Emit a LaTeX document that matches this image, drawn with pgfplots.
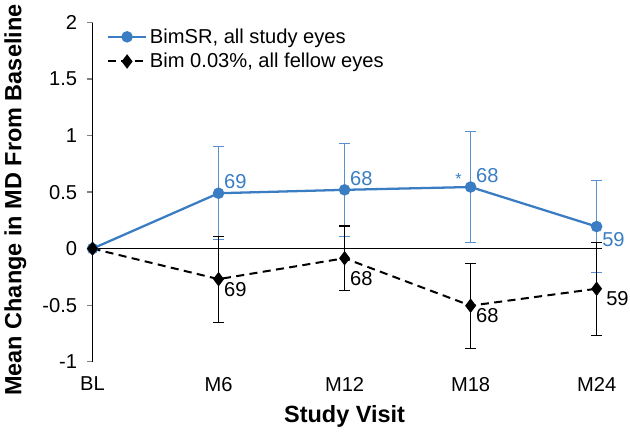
\documentclass[border=0pt]{standalone}
\usepackage{pgfplots}
\pgfplotsset{compat=1.18}
\usepackage{fontspec}
\setmainfont{Liberation Sans}
\definecolor{bimblue}{RGB}{58,125,195}
\definecolor{bimbluel}{RGB}{90,145,205}
\begin{document}
\begin{tikzpicture}
\begin{axis}[
  scale only axis,
  width=379.5pt, height=252.75pt,
  xmin=0, xmax=4.04, ymin=-1, ymax=2,
  axis x line=none,
  axis y line*=left,
  y axis line style={-, line width=0.9pt},
  ytick={-1,-0.5,0,0.5,1,1.5,2},
  yticklabels={-1,-0.5,0,0.5,1,1.5,2},
  tick align=outside,
  major tick length=4pt,
  ytick style={line width=0.9pt},
  ticklabel style={font=\fontsize{15}{18}\selectfont},
  yticklabel style={xshift=-4pt},
  ylabel={\bfseries Mean Change in MD From Baseline},
  ylabel style={font=\fontsize{17.5}{20}\selectfont, yshift=5pt, xshift=-6pt},
  clip=false,
  legend style={draw=none, fill=none, at={(0.025,0.995)}, anchor=north west,
    font=\fontsize{15}{18}\selectfont, row sep=2pt, inner sep=1pt},
  legend cell align=left,
  legend image code/.code={\draw[mark repeat=2,mark phase=2] plot coordinates {(0cm,0cm) (0.5cm,0cm) (1.0cm,0cm)};},
]
\draw[black, line width=1pt] (axis cs:0,0) -- (axis cs:4.04,0);
\addplot[color=bimblue, line width=1.7pt, mark=*, mark size=3.4pt,
  error bars/.cd, y dir=both, y explicit,
  error bar style={color=bimbluel, line width=0.8pt}, error mark options={rotate=90, mark size=4pt, line width=0.8pt, color=bimbluel}]
  coordinates {(0,0) +- (0,0) (1,0.49) +- (0,0.41) (2,0.52) +- (0,0.41) (3,0.545) +- (0,0.49) (4,0.195) +- (0,0.41)};
\addlegendentry{BimSR, all study eyes}
\addplot[color=black, line width=1.5pt, dashed, dash pattern=on 6pt off 4pt, mark=diamond*, mark size=4.2pt, mark options={solid},
  error bars/.cd, y dir=both, y explicit,
  error bar style={color=black, line width=0.8pt, solid}, error mark options={rotate=90, mark size=4pt, line width=0.8pt, black, solid}]
  coordinates {(0,0) +- (0,0) (1,-0.27) +- (0,0.38) (2,-0.085) +- (0,0.285) (3,-0.505) +- (0,0.375) (4,-0.355) +- (0,0.41)};
\addlegendentry{Bim 0.03\%, all fellow eyes}
% category labels
\foreach \x/\l in {0/BL,1/M6,2/M12,3/M18,4/M24}{
  \edef\tmp{\noexpand\node[font=\noexpand\fontsize{15}{18}\noexpand\selectfont, anchor=north] at (axis cs:\x,-1) [yshift=-8pt] {\l};}\tmp
}
\node[font=\fontsize{17.5}{20}\selectfont\bfseries, anchor=north] at (axis cs:2,-1) [yshift=-29pt] {Study Visit};
% n labels
\tikzset{nl/.style={font=\fontsize{15}{18}\selectfont, anchor=south west, inner sep=1pt}}
\node[nl, text=bimblue] at (axis cs:1,0.49) [xshift=3pt, yshift=2pt] {69};
\node[nl, text=bimblue] at (axis cs:2,0.52) [xshift=3pt, yshift=2pt] {68};
\node[nl, text=bimblue] at (axis cs:3,0.545) [xshift=3pt, yshift=2pt] {68};
\node[nl, text=bimblue, anchor=west] at (axis cs:4,0.195) [xshift=3pt, yshift=-10pt] {59};
\node[font=\fontsize{12}{14}\selectfont, text=bimblue, inner sep=0pt] at (axis cs:3,0.545) [xshift=-9pt, yshift=6pt] {*};
\node[nl, anchor=north west] at (axis cs:1,-0.27) [xshift=3pt, yshift=-1pt] {69};
\node[nl, anchor=north west] at (axis cs:2,-0.085) [xshift=3pt, yshift=-9pt] {68};
\node[nl, anchor=north west] at (axis cs:3,-0.505) [xshift=3pt, yshift=-1pt] {68};
\node[nl, anchor=west] at (axis cs:4,-0.355) [xshift=6pt, yshift=-7pt] {59};
\end{axis}
\end{tikzpicture}
\end{document}
